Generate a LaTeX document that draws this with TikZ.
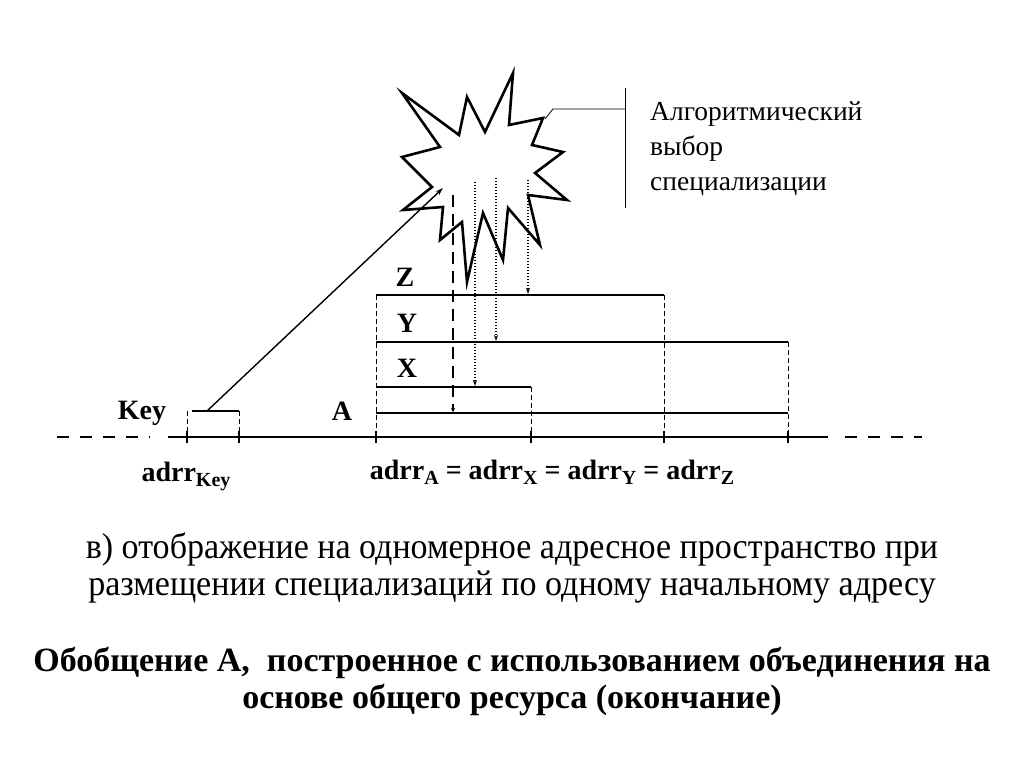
\documentclass[tikz,border=0pt]{standalone}
\usepackage{fontspec}
\setmainfont{Liberation Serif}
\newfontfamily\capfont[FakeStretch=0.945]{Liberation Serif}
\usetikzlibrary{arrows.meta,positioning,calc}
\newcommand{\adr}[1]{adrr\raisebox{-0.45ex}{\fontsize{20}{22}\selectfont #1}}

\begin{document}
\begin{tikzpicture}[x=1pt,y=-1pt,
        bar/.style={line width=2.6pt},
        guide/.style={line width=0.8pt, dash pattern=on 5pt off 3pt},
        probe/.style={line width=1.4pt, dash pattern=on 1.4pt off 1.6pt, -{Stealth[length=6pt,width=4pt]}},
        tick/.style={line width=2pt},
        lbl/.style={font=\bfseries\fontsize{28}{32}\selectfont},
        note/.style={font=\fontsize{27.5}{35}\selectfont, align=left, anchor=north west, inner sep=0pt},
        captext/.style={font=\capfont\fontsize{36}{37}\selectfont, align=center, inner sep=0pt},
        ttl/.style={font=\bfseries\fontsize{34}{37}\selectfont, align=center, inner sep=0pt}
    ]
        \useasboundingbox (0,0) rectangle (1024,768);

        % star
        \draw[line width=2.6pt, line join=miter, fill=white]
            (402,93) -- (459,135) -- (467,97) -- (485,132) -- (513,73) -- (509,125)
            -- (543,118) -- (532,145) -- (563,152) -- (535,173) -- (567,200)
            -- (528,195) -- (540,245) -- (508,208) -- (503,260) -- (483,213)
            -- (467,282) -- (462,222) -- (440,240) -- (443,207) -- (403,210)
            -- (432,187) -- (402,157) -- (440,147) -- cycle;
        \coordinate (starkey) at (443,188);
        \coordinate (starA) at (453,195);
        \coordinate (starX) at (475,182);
        \coordinate (starY) at (496,178);
        \coordinate (starZ) at (528,180);
        \coordinate (starcall) at (545,119);

        % callout
        \coordinate (calltop) at (625,88);
        \coordinate (callbot) at (625,208);
        \draw[line width=0.8pt] (starcall) -- (553,109) -- (625,109);
        \draw[line width=0.8pt] (calltop) -- (callbot);
        \node[note] (algo) at (650,101) {Алгоритмический\\выбор\\специализации};

        % axis
        \coordinate (axL) at (57,437);
        \coordinate (axa) at (150,437);
        \coordinate (axb) at (168,437);
        \coordinate (axc) at (828,437);
        \coordinate (axd) at (845,437);
        \coordinate (axR) at (922,437);
        \draw[bar, dash pattern=on 12pt off 11pt] (axL) -- (axa);
        \draw[bar] (axb) -- (axc);
        \draw[bar, dash pattern=on 12pt off 11pt] (axd) -- (axR);
        \foreach \x/\n in {187/k1, 239/k2, 376/t1, 531/t2, 664/t3, 788/t4} {
            \coordinate (\n) at (\x,437);
            \draw[tick] (\x,431) -- (\x,443);
        }

        % key
        \coordinate (keyL) at (192,411);
        \coordinate (keyR) at (239,411);
        \coordinate (keyS) at (207,411);
        \draw[bar] (keyL) -- (keyR);
        \draw[guide] (187,411) -- (k1);
        \draw[guide] (keyR) -- (k2);
        \draw[line width=1.4pt, -{Stealth[length=8pt,width=5pt]}] (keyS) -- (starkey);
        \node[lbl] (keylbl) at (142,413) {Key};

        % bars A, X, Y, Z
        \coordinate (zL) at (376,295);
        \coordinate (zR) at (664,295);
        \coordinate (yL) at (376,342);
        \coordinate (yR) at (788,342);
        \coordinate (xL) at (376,387);
        \coordinate (xR) at (531,387);
        \coordinate (aL) at (376,413);
        \coordinate (aR) at (788,413);
        \draw[bar] (zL) -- (zR);
        \draw[bar] (yL) -- (yR);
        \draw[bar] (xL) -- (xR);
        \draw[bar] (aL) -- (aR);
        \draw[guide] (zL) -- (t1);
        \draw[guide] (xR) -- (t2);
        \draw[guide] (zR) -- (t3);
        \draw[guide] (yR) -- (t4);
        \node[lbl] (zlbl) at (405,277) {Z};
        \node[lbl] (ylbl) at (407,323) {Y};
        \node[lbl] (xlbl) at (407,368) {X};
        \node[lbl] (albl) at (342,411) {A};

        % choice
        \draw[line width=2.6pt, dash pattern=on 12pt off 7pt, -{Stealth[length=4pt,width=4pt]}] (starA) -- (453,412);
        \draw[probe] (starX) -- (475,386);
        \draw[probe] (starY) -- (496,341);
        \draw[probe] (starZ) -- (528,294);

        % addresses
        \node[lbl, anchor=base] (adrkey) at (186,481) {\adr{Key}};
        \node[lbl, anchor=base] (adreq) at (552,479) {\adr{A} = \adr{X} = \adr{Y} = \adr{Z}};

        % captions
        \node[captext] (caption) at (512,568) {в) отображение на одномерное адресное пространство при\\размещении специализаций по одному начальному адресу};
        \node[ttl] (title) at (512,681) {Обобщение А,\ \ построенное с использованием объединения на\\основе общего ресурса (окончание)};
    \end{tikzpicture}
\end{document}
